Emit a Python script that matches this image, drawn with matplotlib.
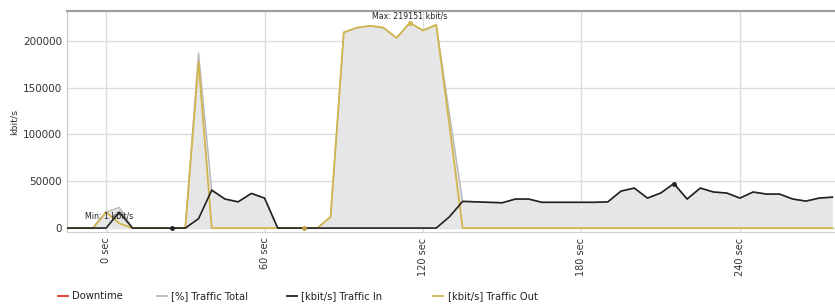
import matplotlib.pyplot as plt
from matplotlib.lines import Line2D

plt.rcParams['font.family'] = ['DejaVu Sans']

# seconds, one sample every 5 sec
seconds = list(range(-15, 280, 5))

traffic_in = [0, 0, 0, 1, 17000, 0, 0, 0, 0, 0,
              10000, 40500, 31000, 28000, 37000, 32000, 0, 0, 0, 0,
              0, 0, 0, 0, 0, 0, 0, 0, 0, 12000,
              28500, 28000, 27500, 27000, 31000, 31000, 27500, 27500, 27500, 27500,
              27500, 28000, 39500, 42700, 32000, 37400, 47500, 31000, 42700, 38500,
              37400, 32000, 38500, 36300, 36300, 31000, 28800, 32000, 33000]

traffic_out = [0, 0, 0, 17000, 5000, 0, 0, 0, 0, 0,
               177000, 0, 0, 0, 0, 0, 0, 0, 0, 0,
               12000, 209000, 214000, 216000, 214000, 203000, 219151, 211000, 217000, 110000,
               0, 0, 0, 0, 0, 0, 0, 0, 0, 0,
               0, 0, 0, 0, 0, 0, 0, 0, 0, 0,
               0, 0, 0, 0, 0, 0, 0, 0, 0]

# total = in + out (gray area)
traffic_total = [a + b for a, b in zip(traffic_in, traffic_out)]

x_ticks = [0, 60, 120, 180, 240]
x_labels = ['0 sec', '60 sec', '120 sec', '180 sec', '240 sec']
y_ticks = [0, 50000, 100000, 150000, 200000]

legend_labels = ['Downtime', '[%] Traffic Total', '[kbit/s] Traffic In', '[kbit/s] Traffic Out']
legend_colors = ['#e0302a', '#b8b8b8', '#222222', '#d2b54c']

fig = plt.figure(figsize=(8.35, 3.05), dpi=100)
ax = fig.add_axes([67/835, 1 - 232/305, 1 - 67/835, (232 - 11)/305])

ax.fill_between(seconds, traffic_total, 0, color='#e6e6e6', lw=0, zorder=1)
ax.plot(seconds, traffic_total, color='#b8b8b8', lw=1.0, zorder=2)
ax.plot(seconds, traffic_out, color='#d2b54c', lw=1.3, zorder=3)
ax.plot(seconds, traffic_in, color='#222222', lw=1.2, zorder=4)

# min / max markers
i_min_in = seconds.index(25)
i_max_in = traffic_in.index(max(traffic_in))
ax.plot(seconds[i_min_in], traffic_in[i_min_in], 'o', color='#222222', ms=2.5, zorder=5)
ax.plot(seconds[i_max_in], traffic_in[i_max_in], 'o', color='#222222', ms=2.5, zorder=5)
i_min_out = seconds.index(75)
i_max_out = traffic_out.index(max(traffic_out))
ax.plot(seconds[i_min_out], traffic_out[i_min_out], 'o', color='#b8a040', ms=2.5, zorder=5)
ax.plot(seconds[i_max_out], traffic_out[i_max_out], 'o', color='#d2b54c', ms=2.5, zorder=5)

ax.text(seconds[i_max_out], 226000, 'Max: %d kbit/s' % max(traffic_out), ha='center', va='center',
        fontsize=5.7, color='#222222', zorder=6)
ax.text(1, 12500, 'Min: 1 kbit/s', ha='center', va='center', fontsize=5.7, color='#222222', zorder=6)

ax.set_xlim(-14.8, 276)
ax.set_ylim(-4200, 231800)
ax.set_xticks(x_ticks)
ax.set_xticklabels(x_labels, rotation=90, fontsize=7, color='#333333')
ax.set_yticks(y_ticks)
ax.set_yticklabels([str(v) for v in y_ticks], fontsize=7.5, color='#333333')
ax.tick_params(axis='y', length=0, pad=3.6)
ax.tick_params(axis='x', length=0, pad=4)
ax.set_ylabel('kbit/s', fontsize=6.8, color='#333333')
ax.yaxis.set_label_coords(-0.0625, 0.5)
ax.grid(True, color='#dcdcdc', lw=1.0, zorder=0)
ax.set_axisbelow(True)

ax.spines['top'].set_color('#a0a0a0')
ax.spines['top'].set_linewidth(1.6)
ax.spines['left'].set_color('#c8c8c8')
ax.spines['bottom'].set_color('#d0d0d0')
ax.spines['right'].set_visible(False)

# legend along the bottom
leg_x = [58, 157, 287, 433]
leg_text_x = [72, 171, 301, 448]
y0 = 1 - 296/305
for x0, xt, lab, col in zip(leg_x, leg_text_x, legend_labels, legend_colors):
    fig.add_artist(Line2D([x0/835, (x0 + 10)/835], [y0, y0], color=col, lw=1.3))
    fig.text(xt/835, y0, lab, fontsize=7.2, va='center', ha='left', color='#222222')

fig.savefig('out.png', dpi=100)
